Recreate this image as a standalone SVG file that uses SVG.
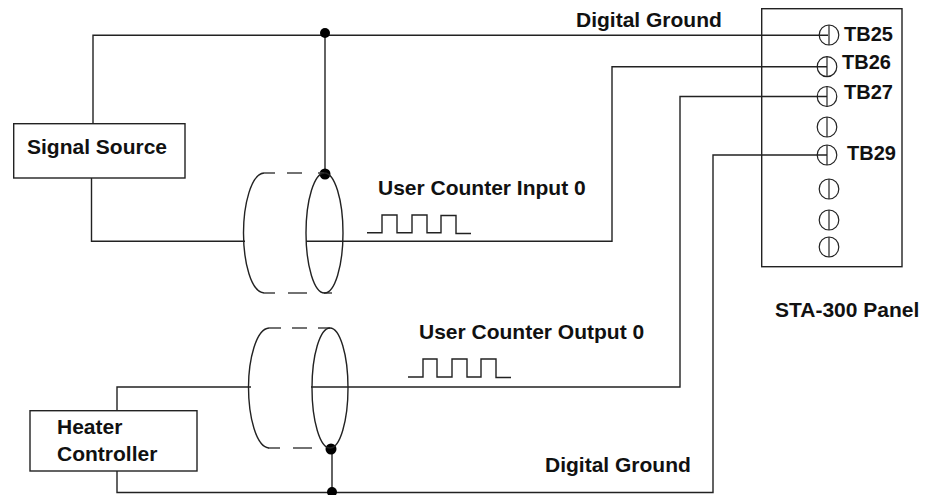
<svg xmlns="http://www.w3.org/2000/svg" width="932" height="495" viewBox="0 0 932 495">
<style>
.w{fill:none;stroke:#222;stroke-width:1.4}
.b{fill:#fff;stroke:#222;stroke-width:1.4}
.d{fill:none;stroke:#444;stroke-width:1.4}
.t{font-family:"Liberation Sans",Arial,sans-serif;font-weight:bold;font-size:21px;fill:#111}
.n{font-size:20px}
.k{fill:#000}
.c{fill:none;stroke:#222;stroke-width:1.2}
</style>
<defs>
<g id="term"><ellipse cx="0" cy="0" rx="9.800" ry="10" class="c"/><line x1="0" y1="-10" x2="0" y2="10" class="c"/></g>
</defs>
<g id="connectors">
<path class="w" d="M93 124V35.300H828"/>
<path class="w" d="M325 33V174"/>
<path class="w" d="M91.500 178V241.300H245"/>
<path class="w" d="M306 241.300H612V66.700H827"/>
<path class="w" d="M311 387H680V96.500H827"/>
<path class="w" d="M117 411V387H251"/>
<path class="w" d="M117 471V492.500H713V155H827"/>
<path class="w" d="M332 449V492"/>
<path class="w" d="M367 232.800H382V215H397V232.800H412V215H427V232.800H441V215.500H456V233.500H471"/>
<path class="w" d="M408 377H423V359H437V377H452V359H467V377H481V359H496V377.500H511"/>
<circle class="k" cx="325" cy="33" r="5"/>
<circle class="k" cx="325" cy="174" r="5.500"/>
<circle class="k" cx="331" cy="449" r="5.500"/>
<circle class="k" cx="332" cy="492" r="5"/>
</g>
<g id="shield-top">
<path class="w" d="M264 173C251 174 243.500 205 243.500 233C243.500 262 251 292 264 293"/>
<path class="d" d="M264 173H275M287 173H302M318 173H324M264 293H275M288 293H307M324 293H332"/>
<ellipse class="w" cx="324.500" cy="233" rx="18.500" ry="60"/>
</g>
<g id="shield-bottom">
<path class="w" d="M269 328C256 329 248.500 360 248.500 387C248.500 416 256 447 269 448"/>
<path class="d" d="M269 328H281M292 328H307M318 328H330M268 448H280M293 448H312"/>
<ellipse class="w" cx="330" cy="388" rx="18" ry="60"/>
</g>
<g id="signal-source"><rect class="b" x="13.700" y="123.700" width="171.300" height="54.300"/><text class="t" x="27" y="153.500">Signal Source</text></g>
<g id="heater-controller"><rect class="b" x="30" y="410.700" width="167" height="60.300"/><text class="t" x="57" y="434">Heater</text><text class="t" x="57" y="461">Controller</text></g>
<g id="sta-300-panel"><rect x="761.700" y="8.700" width="140.300" height="258" fill="none" stroke="#222" stroke-width="1.400"/>
<use href="#term" x="829" y="35"/><use href="#term" x="827" y="66.700"/><use href="#term" x="827" y="96.500"/><use href="#term" x="827" y="127"/><use href="#term" x="827" y="155"/><use href="#term" x="829" y="189"/><use href="#term" x="829" y="220"/><use href="#term" x="829" y="247"/>
<text class="t n" x="844" y="41">TB25</text><text class="t n" x="842" y="69">TB26</text><text class="t n" x="844" y="99">TB27</text><text class="t n" x="847" y="160">TB29</text></g>
<g id="labels">
<text class="t" x="576" y="27">Digital Ground</text>
<text class="t" x="378" y="195">User Counter Input 0</text>
<text class="t" x="419" y="339">User Counter Output 0</text>
<text class="t" x="545" y="472">Digital Ground</text>
<text class="t" x="775" y="316.500">STA-300 Panel</text>
</g>
</svg>
